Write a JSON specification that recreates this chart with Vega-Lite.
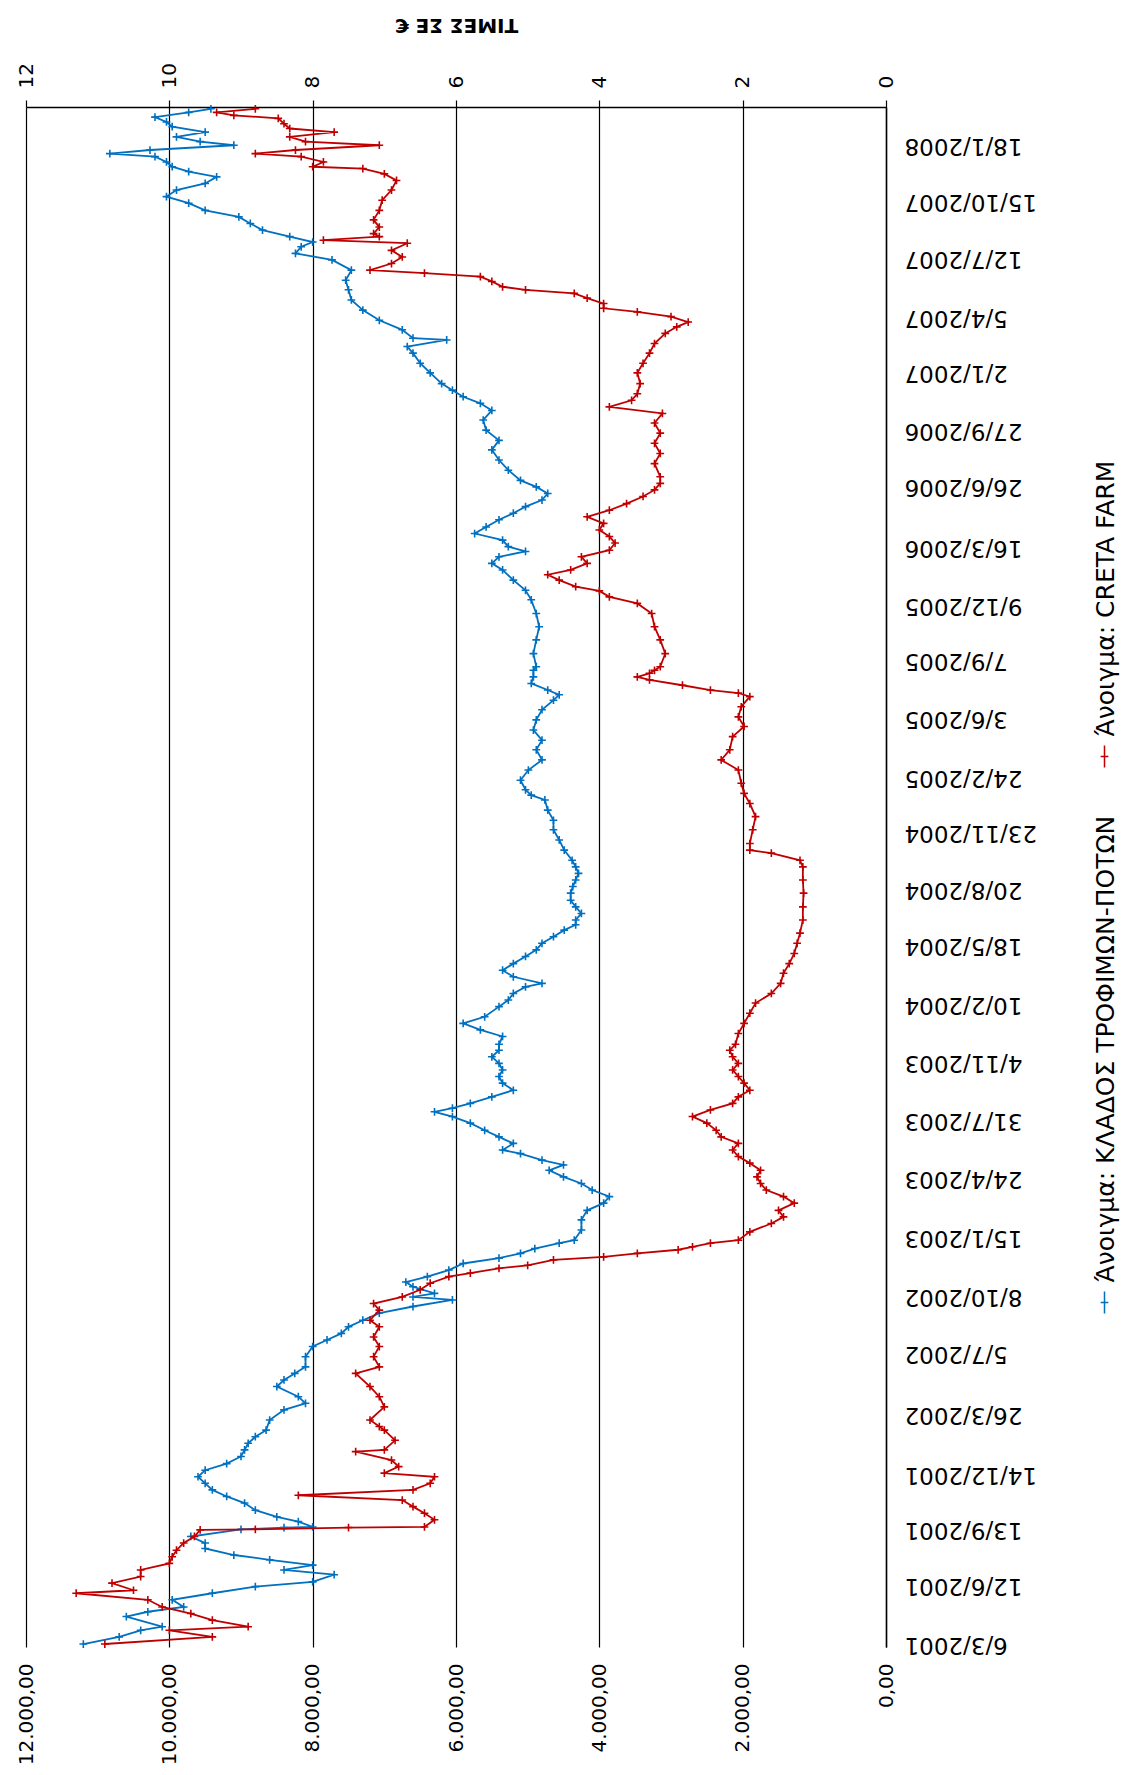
{
  "$schema": "https://vega.github.io/schema/vega-lite/v6.json",
  "autosize": {"type": "none"},
  "width": 860,
  "height": 1540,
  "padding": {"left": 26, "top": 107, "right": 240, "bottom": 128},
  "background": "white",
  "config": {
    "locale": {"number": {"decimal": ",", "thousands": ".", "grouping": [3], "currency": ["", " €"]}},
    "view": {"stroke": null},
    "axis": {"labelFont": "DejaVu Sans", "labelColor": "black", "titleFont": "DejaVu Sans", "titleColor": "black"}
  },
  "datasets": {
    "sector": [
      {"d": "2001-03-06", "v": 11200}, {"d": "2001-03-18", "v": 10700}, {"d": "2001-03-29", "v": 10400}, {"d": "2001-04-04", "v": 10100},
      {"d": "2001-04-21", "v": 10600}, {"d": "2001-04-29", "v": 10300}, {"d": "2001-05-07", "v": 9800}, {"d": "2001-05-19", "v": 9960},
      {"d": "2001-05-30", "v": 9400}, {"d": "2001-06-10", "v": 8800}, {"d": "2001-06-18", "v": 8000}, {"d": "2001-06-30", "v": 7700},
      {"d": "2001-07-08", "v": 8400}, {"d": "2001-07-16", "v": 8000}, {"d": "2001-07-25", "v": 8600}, {"d": "2001-08-02", "v": 9100},
      {"d": "2001-08-13", "v": 9500}, {"d": "2001-08-22", "v": 9500}, {"d": "2001-09-02", "v": 9700}, {"d": "2001-09-14", "v": 9000},
      {"d": "2001-09-17", "v": 8400}, {"d": "2001-09-18", "v": 8000}, {"d": "2001-09-27", "v": 8200}, {"d": "2001-10-05", "v": 8500},
      {"d": "2001-10-16", "v": 8800}, {"d": "2001-10-28", "v": 8950}, {"d": "2001-11-08", "v": 9200}, {"d": "2001-11-19", "v": 9400},
      {"d": "2001-11-30", "v": 9500}, {"d": "2001-12-11", "v": 9600}, {"d": "2001-12-22", "v": 9500}, {"d": "2002-01-02", "v": 9200},
      {"d": "2002-01-14", "v": 9000}, {"d": "2002-01-25", "v": 8950}, {"d": "2002-02-05", "v": 8900}, {"d": "2002-02-16", "v": 8800},
      {"d": "2002-02-27", "v": 8650}, {"d": "2002-03-16", "v": 8600}, {"d": "2002-04-02", "v": 8400}, {"d": "2002-04-13", "v": 8100},
      {"d": "2002-04-24", "v": 8200}, {"d": "2002-05-11", "v": 8500}, {"d": "2002-05-22", "v": 8400}, {"d": "2002-06-02", "v": 8250},
      {"d": "2002-06-13", "v": 8100}, {"d": "2002-06-30", "v": 8100}, {"d": "2002-07-17", "v": 8000}, {"d": "2002-07-28", "v": 7800},
      {"d": "2002-08-08", "v": 7600}, {"d": "2002-08-19", "v": 7500}, {"d": "2002-08-30", "v": 7300}, {"d": "2002-09-11", "v": 7070},
      {"d": "2002-09-22", "v": 6600}, {"d": "2002-10-03", "v": 6050}, {"d": "2002-10-08", "v": 6600}, {"d": "2002-10-14", "v": 6300},
      {"d": "2002-10-25", "v": 6600}, {"d": "2002-11-02", "v": 6700}, {"d": "2002-11-11", "v": 6400}, {"d": "2002-11-22", "v": 6100},
      {"d": "2002-12-03", "v": 5900}, {"d": "2002-12-12", "v": 5400}, {"d": "2002-12-20", "v": 5100}, {"d": "2002-12-28", "v": 4900},
      {"d": "2003-01-06", "v": 4560}, {"d": "2003-01-11", "v": 4350}, {"d": "2003-01-28", "v": 4250}, {"d": "2003-02-14", "v": 4250},
      {"d": "2003-03-02", "v": 4170}, {"d": "2003-03-14", "v": 3940}, {"d": "2003-03-25", "v": 3860}, {"d": "2003-04-05", "v": 4100},
      {"d": "2003-04-16", "v": 4250}, {"d": "2003-04-27", "v": 4500}, {"d": "2003-05-08", "v": 4700}, {"d": "2003-05-17", "v": 4500},
      {"d": "2003-05-25", "v": 4800}, {"d": "2003-06-05", "v": 5100}, {"d": "2003-06-11", "v": 5350}, {"d": "2003-06-22", "v": 5200},
      {"d": "2003-07-03", "v": 5400}, {"d": "2003-07-14", "v": 5600}, {"d": "2003-07-26", "v": 5800}, {"d": "2003-08-06", "v": 6050},
      {"d": "2003-08-14", "v": 6300}, {"d": "2003-08-20", "v": 6050}, {"d": "2003-08-28", "v": 5800}, {"d": "2003-09-08", "v": 5500},
      {"d": "2003-09-19", "v": 5200}, {"d": "2003-10-01", "v": 5350}, {"d": "2003-10-12", "v": 5400}, {"d": "2003-10-23", "v": 5350},
      {"d": "2003-11-03", "v": 5400}, {"d": "2003-11-14", "v": 5500}, {"d": "2003-11-25", "v": 5400}, {"d": "2003-12-05", "v": 5400},
      {"d": "2003-12-18", "v": 5350}, {"d": "2003-12-29", "v": 5660}, {"d": "2004-01-09", "v": 5900}, {"d": "2004-01-20", "v": 5600},
      {"d": "2004-02-06", "v": 5400}, {"d": "2004-02-17", "v": 5270}, {"d": "2004-02-28", "v": 5200}, {"d": "2004-03-10", "v": 5030},
      {"d": "2004-03-16", "v": 4800}, {"d": "2004-03-27", "v": 5200}, {"d": "2004-04-07", "v": 5350}, {"d": "2004-04-18", "v": 5200},
      {"d": "2004-04-30", "v": 5030}, {"d": "2004-05-11", "v": 4880}, {"d": "2004-05-22", "v": 4800}, {"d": "2004-06-02", "v": 4640},
      {"d": "2004-06-13", "v": 4490}, {"d": "2004-06-22", "v": 4330}, {"d": "2004-06-30", "v": 4330}, {"d": "2004-07-11", "v": 4250},
      {"d": "2004-07-22", "v": 4330}, {"d": "2004-08-02", "v": 4400}, {"d": "2004-08-14", "v": 4400}, {"d": "2004-08-25", "v": 4370},
      {"d": "2004-09-05", "v": 4330}, {"d": "2004-09-16", "v": 4290}, {"d": "2004-09-27", "v": 4330}, {"d": "2004-10-08", "v": 4380},
      {"d": "2004-10-25", "v": 4490}, {"d": "2004-11-11", "v": 4560}, {"d": "2004-11-28", "v": 4640}, {"d": "2004-12-14", "v": 4640},
      {"d": "2004-12-31", "v": 4720}, {"d": "2005-01-17", "v": 4760}, {"d": "2005-01-25", "v": 4950}, {"d": "2005-02-03", "v": 5030},
      {"d": "2005-02-19", "v": 5100}, {"d": "2005-03-08", "v": 4990}, {"d": "2005-03-25", "v": 4800}, {"d": "2005-04-11", "v": 4880},
      {"d": "2005-04-27", "v": 4800}, {"d": "2005-05-14", "v": 4920}, {"d": "2005-05-31", "v": 4880}, {"d": "2005-06-17", "v": 4800},
      {"d": "2005-07-03", "v": 4640}, {"d": "2005-07-12", "v": 4560}, {"d": "2005-07-20", "v": 4720}, {"d": "2005-07-31", "v": 4950},
      {"d": "2005-08-11", "v": 4920}, {"d": "2005-08-22", "v": 4920}, {"d": "2005-08-28", "v": 4880}, {"d": "2005-09-19", "v": 4920},
      {"d": "2005-10-12", "v": 4880}, {"d": "2005-11-03", "v": 4840}, {"d": "2005-11-25", "v": 4880}, {"d": "2005-12-18", "v": 4950},
      {"d": "2006-01-03", "v": 5030}, {"d": "2006-01-20", "v": 5200}, {"d": "2006-02-06", "v": 5350}, {"d": "2006-02-17", "v": 5500},
      {"d": "2006-02-28", "v": 5400}, {"d": "2006-03-09", "v": 5030}, {"d": "2006-03-17", "v": 5270}, {"d": "2006-03-28", "v": 5350},
      {"d": "2006-04-08", "v": 5740}, {"d": "2006-04-19", "v": 5580}, {"d": "2006-05-01", "v": 5400}, {"d": "2006-05-12", "v": 5200},
      {"d": "2006-05-23", "v": 5030}, {"d": "2006-06-03", "v": 4800}, {"d": "2006-06-14", "v": 4720}, {"d": "2006-06-25", "v": 4880},
      {"d": "2006-07-06", "v": 5100}, {"d": "2006-07-23", "v": 5270}, {"d": "2006-08-09", "v": 5400}, {"d": "2006-08-26", "v": 5500},
      {"d": "2006-09-11", "v": 5400}, {"d": "2006-09-28", "v": 5580}, {"d": "2006-10-15", "v": 5620}, {"d": "2006-10-31", "v": 5500},
      {"d": "2006-11-12", "v": 5660}, {"d": "2006-11-23", "v": 5900}, {"d": "2006-12-04", "v": 6050}, {"d": "2006-12-15", "v": 6200},
      {"d": "2007-01-02", "v": 6360}, {"d": "2007-01-18", "v": 6500}, {"d": "2007-02-04", "v": 6600}, {"d": "2007-02-15", "v": 6680},
      {"d": "2007-02-26", "v": 6130}, {"d": "2007-03-01", "v": 6600}, {"d": "2007-03-15", "v": 6750}, {"d": "2007-03-31", "v": 7070},
      {"d": "2007-04-17", "v": 7300}, {"d": "2007-05-04", "v": 7460}, {"d": "2007-05-21", "v": 7500}, {"d": "2007-06-06", "v": 7540},
      {"d": "2007-06-23", "v": 7460}, {"d": "2007-07-10", "v": 7730}, {"d": "2007-07-21", "v": 8240}, {"d": "2007-08-01", "v": 8160},
      {"d": "2007-08-09", "v": 8000}, {"d": "2007-08-18", "v": 8320}, {"d": "2007-08-29", "v": 8700}, {"d": "2007-09-09", "v": 8870},
      {"d": "2007-09-20", "v": 9030}, {"d": "2007-10-01", "v": 9500}, {"d": "2007-10-13", "v": 9730}, {"d": "2007-10-24", "v": 10040},
      {"d": "2007-11-04", "v": 9900}, {"d": "2007-11-15", "v": 9500}, {"d": "2007-11-26", "v": 9340}, {"d": "2007-12-05", "v": 9730},
      {"d": "2007-12-13", "v": 9960}, {"d": "2007-12-21", "v": 10040}, {"d": "2007-12-30", "v": 10200}, {"d": "2008-01-04", "v": 10830},
      {"d": "2008-01-10", "v": 10270}, {"d": "2008-01-18", "v": 9100}, {"d": "2008-01-24", "v": 9570}, {"d": "2008-02-01", "v": 9900},
      {"d": "2008-02-09", "v": 9500}, {"d": "2008-02-18", "v": 9960}, {"d": "2008-02-26", "v": 10040}, {"d": "2008-03-05", "v": 10200},
      {"d": "2008-03-13", "v": 9730}, {"d": "2008-03-19", "v": 9420}
    ],
    "creta": [
      {"d": "2001-03-06", "v": 10.9}, {"d": "2001-03-18", "v": 9.4}, {"d": "2001-03-29", "v": 10.0}, {"d": "2001-04-04", "v": 8.9},
      {"d": "2001-04-15", "v": 9.4}, {"d": "2001-04-26", "v": 9.7}, {"d": "2001-05-07", "v": 10.1}, {"d": "2001-05-19", "v": 10.3},
      {"d": "2001-05-30", "v": 11.3}, {"d": "2001-06-04", "v": 10.5}, {"d": "2001-06-16", "v": 10.8}, {"d": "2001-06-27", "v": 10.4},
      {"d": "2001-07-08", "v": 10.4}, {"d": "2001-07-19", "v": 10.0}, {"d": "2001-07-30", "v": 9.96}, {"d": "2001-08-10", "v": 9.9},
      {"d": "2001-08-22", "v": 9.8}, {"d": "2001-09-02", "v": 9.65}, {"d": "2001-09-13", "v": 9.57}, {"d": "2001-09-14", "v": 8.8},
      {"d": "2001-09-17", "v": 7.5}, {"d": "2001-09-18", "v": 6.44}, {"d": "2001-09-30", "v": 6.3}, {"d": "2001-10-11", "v": 6.44},
      {"d": "2001-10-22", "v": 6.6}, {"d": "2001-11-02", "v": 6.75}, {"d": "2001-11-10", "v": 8.2}, {"d": "2001-11-19", "v": 6.6},
      {"d": "2001-11-30", "v": 6.36}, {"d": "2001-12-11", "v": 6.3}, {"d": "2001-12-17", "v": 7.0}, {"d": "2001-12-28", "v": 6.8},
      {"d": "2002-01-08", "v": 6.9}, {"d": "2002-01-22", "v": 7.4}, {"d": "2002-01-25", "v": 7.0}, {"d": "2002-02-10", "v": 6.85},
      {"d": "2002-02-27", "v": 7.0}, {"d": "2002-03-05", "v": 7.07}, {"d": "2002-03-16", "v": 7.2}, {"d": "2002-04-07", "v": 7.0},
      {"d": "2002-04-24", "v": 7.07}, {"d": "2002-05-11", "v": 7.2}, {"d": "2002-06-02", "v": 7.4}, {"d": "2002-06-13", "v": 7.07},
      {"d": "2002-06-30", "v": 7.15}, {"d": "2002-07-17", "v": 7.07}, {"d": "2002-08-02", "v": 7.15}, {"d": "2002-08-19", "v": 7.07},
      {"d": "2002-08-30", "v": 7.2}, {"d": "2002-09-16", "v": 7.07}, {"d": "2002-09-27", "v": 7.15}, {"d": "2002-10-08", "v": 6.75},
      {"d": "2002-10-20", "v": 6.5}, {"d": "2002-10-31", "v": 6.36}, {"d": "2002-11-11", "v": 6.1}, {"d": "2002-11-17", "v": 5.8},
      {"d": "2002-11-25", "v": 5.4}, {"d": "2002-11-30", "v": 5.0}, {"d": "2002-12-09", "v": 4.64}, {"d": "2002-12-14", "v": 3.94},
      {"d": "2002-12-20", "v": 3.47}, {"d": "2002-12-26", "v": 2.9}, {"d": "2002-12-31", "v": 2.7}, {"d": "2003-01-06", "v": 2.45},
      {"d": "2003-01-11", "v": 2.06}, {"d": "2003-01-25", "v": 1.9}, {"d": "2003-02-08", "v": 1.6}, {"d": "2003-02-19", "v": 1.43},
      {"d": "2003-03-02", "v": 1.5}, {"d": "2003-03-14", "v": 1.28}, {"d": "2003-03-25", "v": 1.43}, {"d": "2003-04-05", "v": 1.67},
      {"d": "2003-04-16", "v": 1.75}, {"d": "2003-04-27", "v": 1.8}, {"d": "2003-05-08", "v": 1.75}, {"d": "2003-05-20", "v": 1.9},
      {"d": "2003-05-31", "v": 2.06}, {"d": "2003-06-11", "v": 2.14}, {"d": "2003-06-22", "v": 2.06}, {"d": "2003-07-03", "v": 2.3},
      {"d": "2003-07-14", "v": 2.37}, {"d": "2003-07-26", "v": 2.5}, {"d": "2003-08-06", "v": 2.7}, {"d": "2003-08-17", "v": 2.45},
      {"d": "2003-08-28", "v": 2.14}, {"d": "2003-09-08", "v": 2.06}, {"d": "2003-09-19", "v": 1.9}, {"d": "2003-10-01", "v": 1.98},
      {"d": "2003-10-12", "v": 2.06}, {"d": "2003-10-23", "v": 2.14}, {"d": "2003-11-03", "v": 2.06}, {"d": "2003-11-14", "v": 2.14},
      {"d": "2003-11-25", "v": 2.18}, {"d": "2003-12-05", "v": 2.1}, {"d": "2003-12-23", "v": 2.06}, {"d": "2004-01-09", "v": 1.98},
      {"d": "2004-01-26", "v": 1.9}, {"d": "2004-02-12", "v": 1.82}, {"d": "2004-02-28", "v": 1.6}, {"d": "2004-03-16", "v": 1.47},
      {"d": "2004-04-02", "v": 1.43}, {"d": "2004-04-18", "v": 1.35}, {"d": "2004-05-05", "v": 1.28}, {"d": "2004-05-22", "v": 1.24},
      {"d": "2004-06-08", "v": 1.2}, {"d": "2004-06-30", "v": 1.16}, {"d": "2004-07-22", "v": 1.16}, {"d": "2004-08-14", "v": 1.15},
      {"d": "2004-09-05", "v": 1.16}, {"d": "2004-09-27", "v": 1.16}, {"d": "2004-10-08", "v": 1.2}, {"d": "2004-10-20", "v": 1.6},
      {"d": "2004-10-25", "v": 1.9}, {"d": "2004-11-05", "v": 1.9}, {"d": "2004-11-28", "v": 1.86}, {"d": "2004-12-20", "v": 1.82},
      {"d": "2005-01-11", "v": 1.9}, {"d": "2005-01-28", "v": 1.98}, {"d": "2005-02-14", "v": 2.02}, {"d": "2005-03-08", "v": 2.06},
      {"d": "2005-03-25", "v": 2.3}, {"d": "2005-04-11", "v": 2.18}, {"d": "2005-05-03", "v": 2.14}, {"d": "2005-05-20", "v": 1.98},
      {"d": "2005-06-05", "v": 2.06}, {"d": "2005-06-22", "v": 2.02}, {"d": "2005-07-09", "v": 1.9}, {"d": "2005-07-15", "v": 2.06},
      {"d": "2005-07-20", "v": 2.45}, {"d": "2005-07-28", "v": 2.84}, {"d": "2005-08-06", "v": 3.3}, {"d": "2005-08-11", "v": 3.47},
      {"d": "2005-08-17", "v": 3.3}, {"d": "2005-08-22", "v": 3.23}, {"d": "2005-08-28", "v": 3.15}, {"d": "2005-09-19", "v": 3.08},
      {"d": "2005-10-12", "v": 3.15}, {"d": "2005-11-03", "v": 3.23}, {"d": "2005-11-25", "v": 3.27}, {"d": "2005-12-12", "v": 3.47},
      {"d": "2005-12-23", "v": 3.86}, {"d": "2006-01-02", "v": 4.0}, {"d": "2006-01-09", "v": 4.33}, {"d": "2006-01-20", "v": 4.56},
      {"d": "2006-01-29", "v": 4.72}, {"d": "2006-02-06", "v": 4.4}, {"d": "2006-02-17", "v": 4.17}, {"d": "2006-02-28", "v": 4.25},
      {"d": "2006-03-11", "v": 3.86}, {"d": "2006-03-23", "v": 3.78}, {"d": "2006-04-03", "v": 3.86}, {"d": "2006-04-14", "v": 4.0},
      {"d": "2006-04-25", "v": 3.94}, {"d": "2006-05-06", "v": 4.17}, {"d": "2006-05-17", "v": 3.86}, {"d": "2006-05-28", "v": 3.62},
      {"d": "2006-06-09", "v": 3.39}, {"d": "2006-06-20", "v": 3.23}, {"d": "2006-07-01", "v": 3.15}, {"d": "2006-07-12", "v": 3.15},
      {"d": "2006-08-03", "v": 3.23}, {"d": "2006-08-20", "v": 3.15}, {"d": "2006-09-06", "v": 3.23}, {"d": "2006-09-23", "v": 3.15},
      {"d": "2006-10-10", "v": 3.23}, {"d": "2006-10-26", "v": 3.12}, {"d": "2006-11-06", "v": 3.86}, {"d": "2006-11-17", "v": 3.55},
      {"d": "2006-11-28", "v": 3.47}, {"d": "2006-12-15", "v": 3.43}, {"d": "2007-01-02", "v": 3.47}, {"d": "2007-01-18", "v": 3.39},
      {"d": "2007-02-04", "v": 3.3}, {"d": "2007-02-20", "v": 3.23}, {"d": "2007-03-09", "v": 3.08}, {"d": "2007-03-20", "v": 2.92},
      {"d": "2007-03-28", "v": 2.76}, {"d": "2007-04-06", "v": 3.0}, {"d": "2007-04-14", "v": 3.47}, {"d": "2007-04-20", "v": 3.94},
      {"d": "2007-04-28", "v": 3.94}, {"d": "2007-05-07", "v": 4.17}, {"d": "2007-05-15", "v": 4.35}, {"d": "2007-05-21", "v": 5.03},
      {"d": "2007-05-26", "v": 5.35}, {"d": "2007-06-04", "v": 5.5}, {"d": "2007-06-12", "v": 5.66}, {"d": "2007-06-18", "v": 6.44},
      {"d": "2007-06-23", "v": 7.2}, {"d": "2007-07-04", "v": 6.9}, {"d": "2007-07-15", "v": 6.75}, {"d": "2007-07-26", "v": 6.9},
      {"d": "2007-08-07", "v": 6.68}, {"d": "2007-08-12", "v": 7.85}, {"d": "2007-08-18", "v": 7.07}, {"d": "2007-08-23", "v": 7.15},
      {"d": "2007-09-03", "v": 7.07}, {"d": "2007-09-15", "v": 7.15}, {"d": "2007-10-01", "v": 7.07}, {"d": "2007-10-18", "v": 7.03},
      {"d": "2007-11-04", "v": 6.9}, {"d": "2007-11-20", "v": 6.83}, {"d": "2007-12-01", "v": 7.0}, {"d": "2007-12-10", "v": 7.3},
      {"d": "2007-12-13", "v": 8.0}, {"d": "2007-12-21", "v": 7.85}, {"d": "2007-12-30", "v": 8.16}, {"d": "2008-01-04", "v": 8.8},
      {"d": "2008-01-10", "v": 8.24}, {"d": "2008-01-18", "v": 7.07}, {"d": "2008-01-24", "v": 8.1}, {"d": "2008-02-01", "v": 8.32},
      {"d": "2008-02-09", "v": 7.7}, {"d": "2008-02-15", "v": 8.32}, {"d": "2008-02-23", "v": 8.4}, {"d": "2008-03-03", "v": 8.48},
      {"d": "2008-03-08", "v": 9.1}, {"d": "2008-03-13", "v": 9.34}, {"d": "2008-03-19", "v": 8.8}
    ]
  },
  "encoding": {
    "y": {
      "field": "d",
      "type": "temporal",
      "scale": {"type": "utc", "domain": [{"year": 2001, "month": 3, "date": 1, "utc": true}, {"year": 2008, "month": 3, "date": 22, "utc": true}]},
      "axis": {
        "orient": "right",
        "title": null,
        "values": [
          {"year": 2001, "month": 3, "date": 6, "utc": true}, {"year": 2001, "month": 6, "date": 12, "utc": true},
          {"year": 2001, "month": 9, "date": 13, "utc": true}, {"year": 2001, "month": 12, "date": 14, "utc": true},
          {"year": 2002, "month": 3, "date": 26, "utc": true}, {"year": 2002, "month": 7, "date": 5, "utc": true},
          {"year": 2002, "month": 10, "date": 8, "utc": true}, {"year": 2003, "month": 1, "date": 15, "utc": true},
          {"year": 2003, "month": 4, "date": 24, "utc": true}, {"year": 2003, "month": 7, "date": 31, "utc": true},
          {"year": 2003, "month": 11, "date": 4, "utc": true}, {"year": 2004, "month": 2, "date": 10, "utc": true},
          {"year": 2004, "month": 5, "date": 18, "utc": true}, {"year": 2004, "month": 8, "date": 20, "utc": true},
          {"year": 2004, "month": 11, "date": 23, "utc": true}, {"year": 2005, "month": 2, "date": 24, "utc": true},
          {"year": 2005, "month": 6, "date": 3, "utc": true}, {"year": 2005, "month": 9, "date": 7, "utc": true},
          {"year": 2005, "month": 12, "date": 9, "utc": true}, {"year": 2006, "month": 3, "date": 16, "utc": true},
          {"year": 2006, "month": 6, "date": 26, "utc": true}, {"year": 2006, "month": 9, "date": 27, "utc": true},
          {"year": 2007, "month": 1, "date": 2, "utc": true}, {"year": 2007, "month": 4, "date": 5, "utc": true},
          {"year": 2007, "month": 7, "date": 12, "utc": true}, {"year": 2007, "month": 10, "date": 15, "utc": true},
          {"year": 2008, "month": 1, "date": 18, "utc": true}
        ],
        "format": "%-d/%-m/%Y",
        "labelAngle": 180,
        "labelFontSize": 23,
        "labelPadding": 18,
        "labelOverlap": false,
        "labelFlush": false,
        "labelBound": false,
        "ticks": false,
        "grid": false,
        "domain": true,
        "domainColor": "black",
        "domainWidth": 1.5
      }
    }
  },
  "layer": [
    {
      "data": {"name": "sector"},
      "encoding": {
        "x": {
          "field": "v",
          "type": "quantitative",
          "scale": {"domain": [0, 12000], "reverse": true, "nice": false, "zero": true},
          "axis": {
            "orient": "bottom",
            "title": null,
            "values": [0, 2000, 4000, 6000, 8000, 10000, 12000],
            "format": ",.2f",
            "labelAngle": 270,
            "labelFontSize": 20,
            "labelPadding": 16,
            "labelFlush": false,
            "labelOverlap": false,
            "ticks": false,
            "domain": false,
            "grid": true,
            "gridColor": "black",
            "gridWidth": 1.2,
            "gridOpacity": 1
          }
        },
        "color": {
          "datum": "Άνοιγμα: ΚΛΑΔΟΣ ΤΡΟΦΙΜΩΝ-ΠΟΤΩΝ",
          "type": "nominal",
          "scale": {
            "domain": ["Άνοιγμα: CRETA FARM", "Άνοιγμα: ΚΛΑΔΟΣ ΤΡΟΦΙΜΩΝ-ΠΟΤΩΝ"],
            "range": ["#C00000", "#0070C0"]
          },
          "legend": {
            "orient": "none",
            "legendX": 1066,
            "legendY": 637,
            "direction": "vertical",
            "title": null,
            "padding": 0,
            "symbolType": "M0,-1L0,1M-0.35,0L0.35,0",
            "symbolSize": 484,
            "symbolStrokeWidth": 1.5,
            "symbolFillColor": "transparent",
            "labelFont": "DejaVu Sans",
            "labelFontSize": 25,
            "labelColor": "black",
            "labelLimit": 0,
            "labelOffset": -11,
            "rowPadding": 44,
            "encoding": {"labels": {"angle": {"value": 270}, "dx": {"value": 20}}}
          }
        }
      },
      "layer": [
        {"mark": {"type": "line", "strokeWidth": 1.8, "interpolate": "linear"}},
        {"mark": {"type": "point", "shape": "M-1,0L1,0M0,-1L0,1", "filled": false, "size": 60, "strokeWidth": 1.6, "opacity": 1}}
      ]
    },
    {
      "data": {"name": "creta"},
      "encoding": {
        "x": {
          "field": "v",
          "type": "quantitative",
          "scale": {"domain": [0, 12], "reverse": true, "nice": false, "zero": true},
          "axis": {
            "orient": "top",
            "title": "ΤΙΜΕΣ ΣΕ €",
            "titleAngle": 180,
            "titleBaseline": "top",
            "titleFontSize": 20,
            "titleFontWeight": "bold",
            "titlePadding": 28,
            "values": [0, 2, 4, 6, 8, 10, 12],
            "format": "d",
            "labelAngle": 270,
            "labelFontSize": 20,
            "labelPadding": 12,
            "labelFlush": false,
            "labelOverlap": false,
            "ticks": true,
            "tickSize": 7,
            "tickColor": "black",
            "tickWidth": 1.2,
            "domain": true,
            "domainColor": "black",
            "domainWidth": 1.5,
            "grid": false
          }
        },
        "color": {"datum": "Άνοιγμα: CRETA FARM", "type": "nominal"}
      },
      "layer": [
        {"mark": {"type": "line", "strokeWidth": 1.8, "interpolate": "linear"}},
        {"mark": {"type": "point", "shape": "M-1,0L1,0M0,-1L0,1", "filled": false, "size": 60, "strokeWidth": 1.6, "opacity": 1}}
      ]
    }
  ],
  "resolve": {"scale": {"x": "independent"}}
}
